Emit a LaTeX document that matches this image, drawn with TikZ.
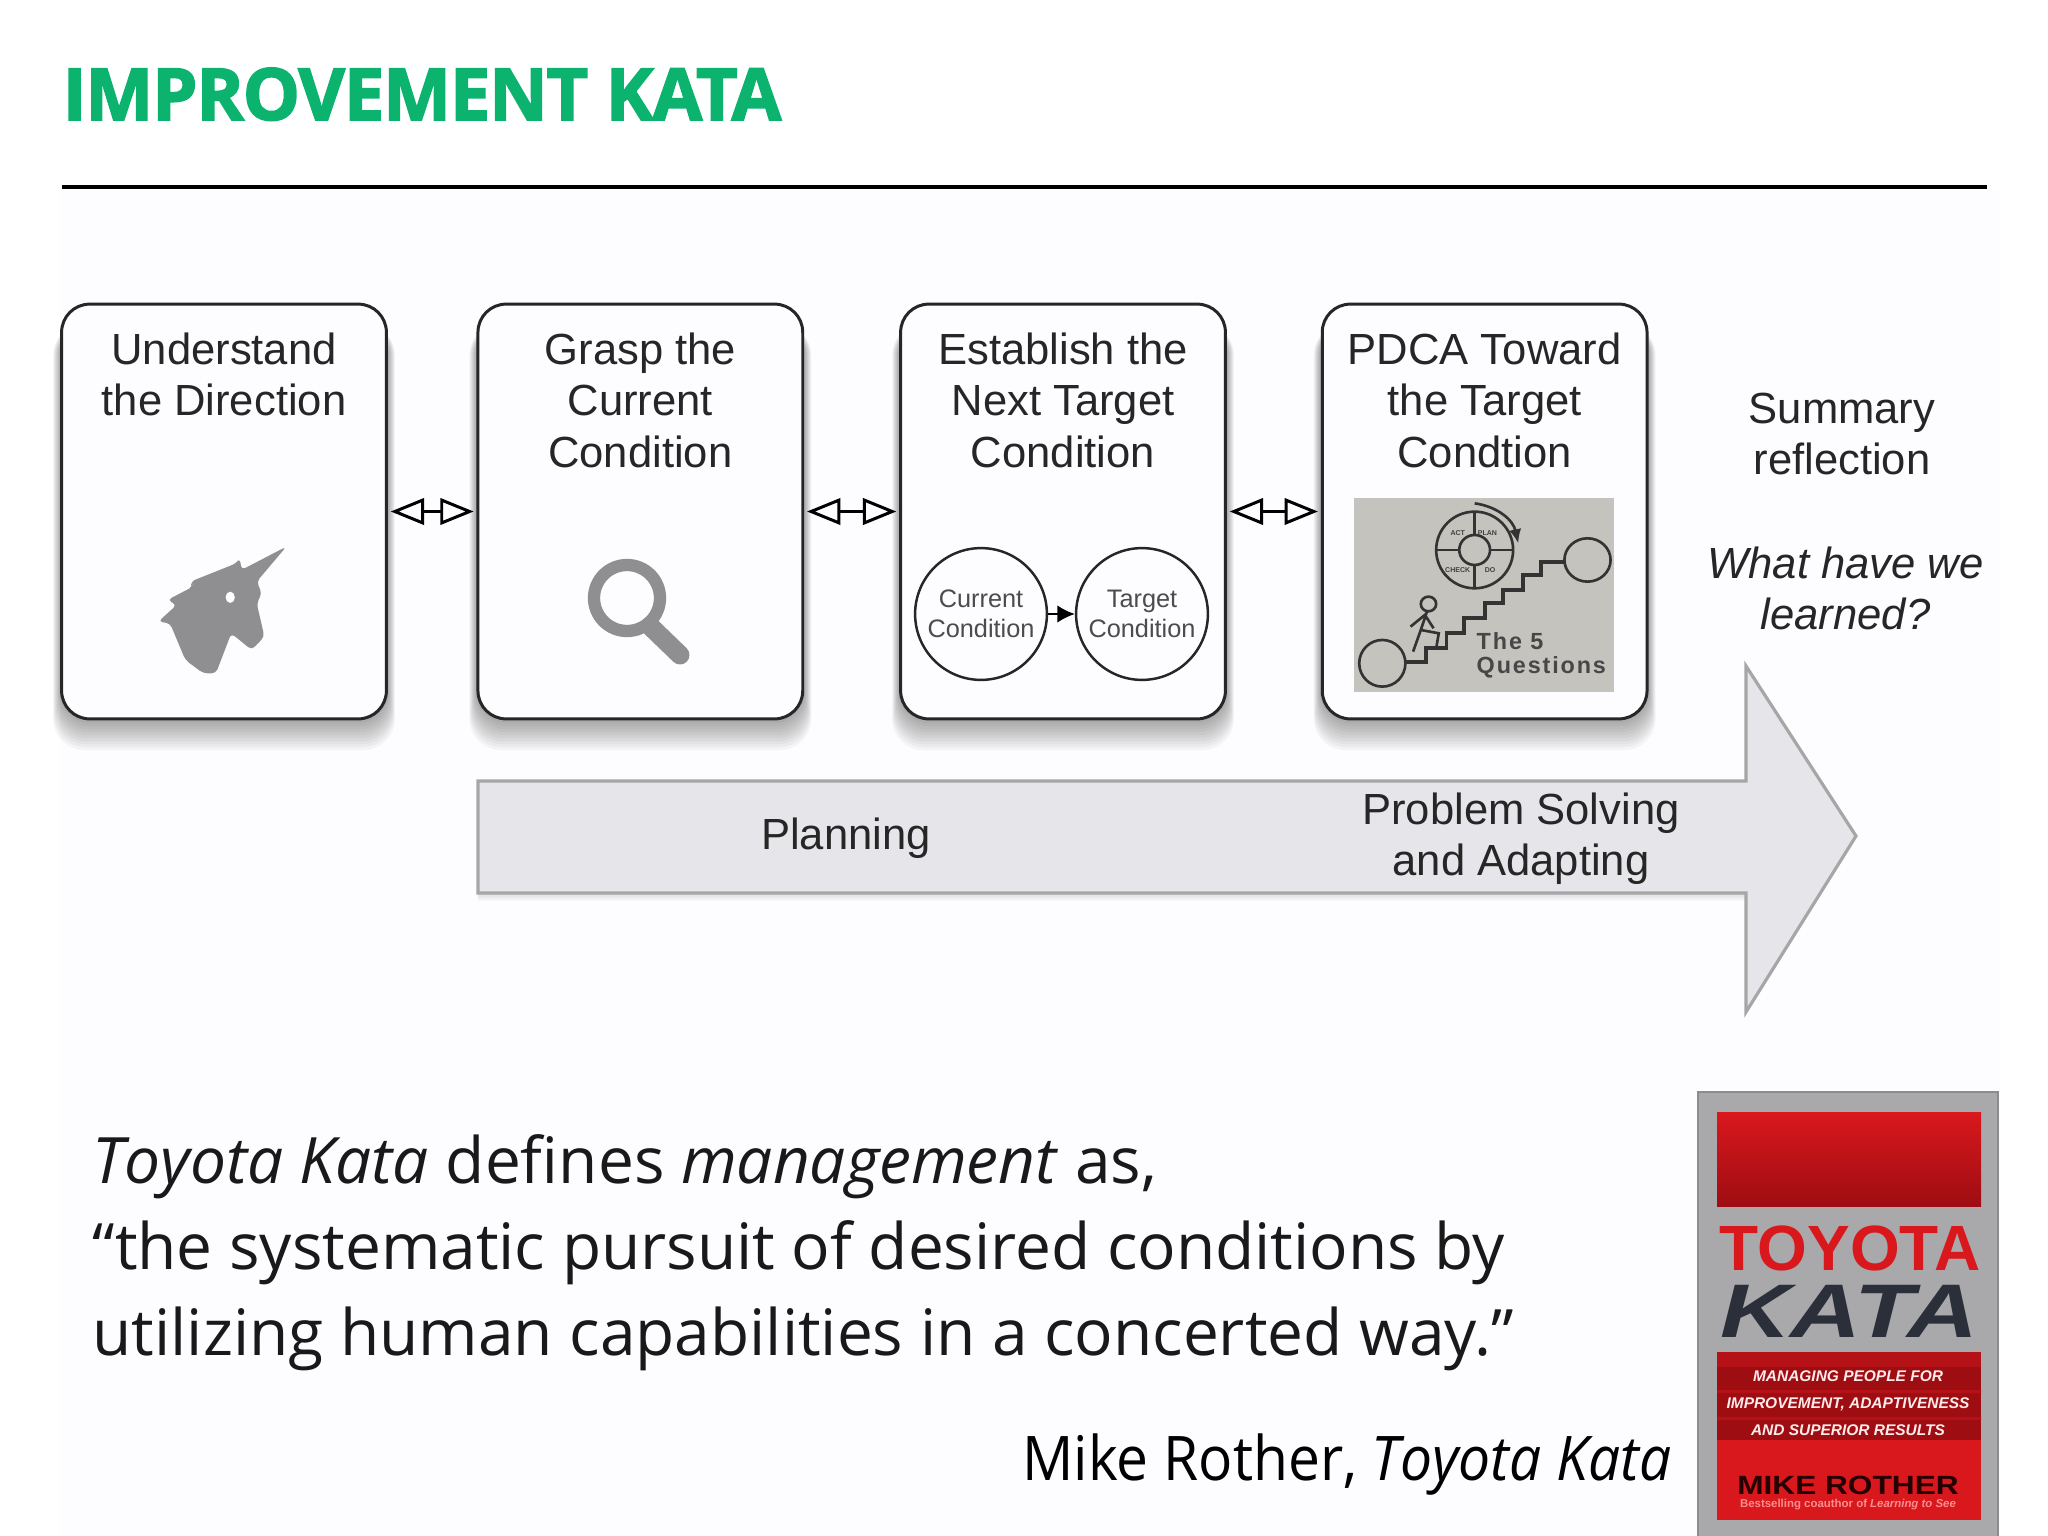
\documentclass[tikz,border=0pt]{standalone}
\usepackage{fontspec}
\usepackage{xcolor}
\setmainfont{Liberation Sans}
\newfontfamily\quotefont{Open Sans}
\newfontfamily\titlefont[LetterSpace=-1.6,BoldFeatures={FakeBold=2.2}]{Open Sans}
\newfontfamily\sketchfont[LetterSpace=8]{Liberation Sans}
\usetikzlibrary{arrows.meta,positioning,backgrounds}

\definecolor{katagreen}{HTML}{0BB36F}
\definecolor{paper}{HTML}{FDFCFE}
\definecolor{icongray}{HTML}{8F8E91}
\definecolor{arrowfill}{HTML}{E6E5E9}
\definecolor{photogray}{HTML}{C5C3BE}
\definecolor{coverred}{HTML}{D9181D}
\definecolor{coverdark}{HTML}{9E0D12}
\definecolor{covermid}{HTML}{B41217}
\definecolor{covergray}{HTML}{A9A9AC}
\definecolor{katadark}{HTML}{2B2F3A}

\tikzset{
    katabox/.style={draw=black!85, line width=.85pt, fill=paper, rounded corners=8pt,
        minimum width=92.4pt, minimum height=118pt},
    boxlabel/.style={font=\fontsize{12.4}{14.6}\selectfont, align=center, inner sep=0pt, text=black!85},
    condcircle/.style={draw=black!85, line width=.7pt, circle, minimum size=37.5pt, inner sep=0pt,
        align=center, font=\fontsize{7.2}{8.4}\selectfont, text=black!70},
    linkarrow/.style={line width=.85pt, {Triangle[open,length=9.5pt,width=7.5pt]}-{Triangle[open,length=9.5pt,width=7.5pt]},
        shorten >=.8pt, shorten <=.8pt},
    sketchline/.style={draw=black!80, line width=.75pt},
    covertext/.style={inner sep=0pt, align=center, font=\fontsize{4.4}{7.7}\selectfont\bfseries\itshape, text=white!92!red},
}

\begin{document}
\begin{tikzpicture}[x=.2845pt, y=-.2845pt, node distance=25.2pt]
    \useasboundingbox (0,0) rectangle (2048,1536);

    % title
    \node[anchor=base west, inner sep=0pt, text=katagreen] (title) at (62,120)
        {\fontsize{20.5}{24}\selectfont\titlefont\bfseries IMPROVEMENT KATA};
    \coordinate (ruleL) at (62,187);
    \coordinate (ruleR) at (1987,187);
    \draw[line width=.9pt] (ruleL) -- (ruleR);

    % steps
    \node[katabox] (box1) at (224,511.5) {};
    \node[katabox, right=of box1] (box2) {};
    \node[katabox, right=27pt of box2] (box3) {};
    \node[katabox, right=26.7pt of box3] (box4) {};

    \node[boxlabel, below=8.4pt of box1.north] (lab1) {Understand\\the Direction};
    \node[boxlabel, below=8.4pt of box2.north] (lab2) {Grasp the\\Current\\Condition};
    \node[boxlabel, below=8.4pt of box3.north] (lab3) {Establish the\\Next Target\\Condition};
    \node[boxlabel, below=8.4pt of box4.north] (lab4) {PDCA Toward\\the Target\\Condtion};

    \draw[linkarrow] (box1) -- (box2);
    \draw[linkarrow] (box2) -- (box3);
    \draw[linkarrow] (box3) -- (box4);

    \begin{pgfonlayer}{background}
        \fill[paper] (60,190) rectangle (2000,1536);
        \foreach \bx in {box1,box2,box3,box4} {
            \foreach \i in {1,...,10} {
                \fill[black, opacity=.036, rounded corners=9pt]
                    ([xshift=-\i*.2pt, yshift=-\i*.85pt]\bx.south west)
                    rectangle ([xshift=\i*.2pt, yshift=-6pt]\bx.north east);
            }
        }
        \foreach \i in {1,...,4} {
            \fill[black, opacity=.03] (478,893+\i*2) rectangle (1748,781);
        }
    \end{pgfonlayer}

    % unicorn
    \begin{scope}[shift={(40,290)}, xscale=.51, yscale=.3333]
        \fill[icongray, rounded corners=1.2pt] (483,770) -- (425,875) -- (435,910) -- (425,940) -- (440,1040)
            -- (415,1080) -- (375,1030) -- (345,1150) -- (320,1150) -- (285,1110)
            -- (255,1000) -- (232,995) -- (268,945) -- (250,930) -- (300,890)
            -- (295,875) -- (385,820) -- (392,805) -- (395,840) -- cycle;
        \fill[white] (373,922) ellipse [x radius=9, y radius=17];
    \end{scope}

    % magnifier
    \draw[icongray, line width=3.5pt] (627,598) circle (33);
    \draw[icongray, line width=5.4pt, line cap=round] (650,626) -- (680,655);

    % conditions
    \node[condcircle] (current) at (981,614) {Current\\Condition};
    \node[condcircle] (target) at (1142,614) {Target\\Condition};
    \draw[line width=.6pt, -{Latex[length=5pt,width=5pt]}] (current) -- (target);

    % five questions sketch
    \fill[photogray] (1354,498) rectangle (1614,692);
    \begin{scope}[shift={(877,290)}, xscale=.513, yscale=.3333]
        \draw[sketchline] (985,1120) ellipse [x radius=45, y radius=70];
        \draw[sketchline] (1385,810) ellipse [x radius=45, y radius=65];
        \draw[sketchline, line width=1.1pt] (1030,1115) -- (1070,1115) -- (1070,1075) -- (1110,1075)
            -- (1110,1030) -- (1145,1030) -- (1145,985) -- (1185,985) -- (1185,940)
            -- (1220,940) -- (1220,900) -- (1260,900) -- (1260,855) -- (1295,855)
            -- (1295,815) -- (1340,815);
        \draw[sketchline] (1165,780) ellipse [x radius=75, y radius=115];
        \draw[sketchline, fill=photogray] (1165,780) ellipse [x radius=30, y radius=45];
        \draw[sketchline] (1165,665) -- (1165,735) (1165,825) -- (1165,895)
            (1090,780) -- (1135,780) (1195,780) -- (1240,780);
        \draw[sketchline, -{Latex[length=4pt,width=3.5pt]}] (1165,640) .. controls (1210,650) and (1240,690) .. (1250,760);
        \foreach \wx/\wy/\wtxt in {1132/730/ACT,1190/730/PLAN,1132/840/CHECK,1195/840/DO} {
            \node[inner sep=0pt, font=\fontsize{2}{2.4}\selectfont\bfseries, text=black!75] (w\wtxt) at (\wx,\wy) {\wtxt};
        }
        \draw[sketchline] (1075,942) ellipse [x radius=15, y radius=22];
        \draw[sketchline] (1072,965) -- (1060,1020) -- (1045,1085);
        \draw[sketchline] (1060,1020) -- (1095,1030) -- (1090,1075);
        \draw[sketchline] (1040,1010) -- (1068,975) -- (1085,1015);
    \end{scope}
    \node[anchor=north west, inner sep=0pt, align=left, text=black!72,
        font=\fontsize{6.65}{6.9}\selectfont\sketchfont\bfseries] (fiveq) at (1476,632)
        {The 5\\Questions};

    % reflection
    \node[boxlabel] (summary) at (1842,434) {Summary\\reflection};
    \node[boxlabel, below=20pt of summary, xshift=1pt, font=\fontsize{12.4}{14.6}\selectfont\itshape] (learned) {What have we\\learned?};

    % big arrow
    \draw[draw=black!35, line width=.9pt, fill=arrowfill] (478,781) -- (1746,781) -- (1746,666)
        -- (1856,836) -- (1746,1012) -- (1746,893) -- (478,893) -- cycle;
    \node[boxlabel] (planning) at (846,838) {Planning};
    \node[boxlabel] (solving) at (1521,839) {Problem Solving\\and Adapting};

    % quote
    \node[anchor=north west, inner sep=0pt, align=left, text=black!90,
        font=\fontsize{18.2}{24.5}\selectfont\quotefont] (quote) at (92,1134)
        {\textit{Toyota Kata} defines \textit{management} as,\\
         “the systematic pursuit of desired conditions by\\
         utilizing human capabilities in a concerted way.”};
    \node[anchor=base east, inner sep=0pt, text=black,
        font=\fontsize{17.5}{21}\selectfont\quotefont] (source) at (1672,1480)
        {\scalebox{.925}[1]{Mike Rother, \textit{Toyota Kata}}};

    % book cover
    \fill[covergray] (1698,1092) rectangle (1998,1536);
    \draw[black!45, line width=.5pt] (1698,1536) -- (1698,1092) -- (1998,1092) -- (1998,1536);
    \shade[top color=coverred, bottom color=coverdark] (1717,1112) rectangle (1981,1206);
    \fill[coverred] (1717,1352) rectangle (1981,1520);
    \fill[covermid] (1717,1352) rectangle (1981,1367);
    \fill[coverdark] (1717,1367) rectangle (1981,1440);
    \fill[covermid] (1717,1390) rectangle (1981,1393) (1717,1417) rectangle (1981,1420);
    \node[inner sep=0pt, text=coverred, anchor=base] (bookA) at (1850,1270)
        {\fontsize{18.2}{20}\selectfont\bfseries TOYOTA};
    \node[inner sep=0pt, text=katadark, anchor=base] (bookB) at (1849,1337)
        {\scalebox{1.29}[1]{\fontsize{21.6}{24}\selectfont\bfseries\itshape KATA}};
    \node[covertext] (bookC) at (1848,1403) {MANAGING PEOPLE FOR\\IMPROVEMENT, ADAPTIVENESS\\AND SUPERIOR RESULTS};
    \node[inner sep=0pt, text=black!85!red, anchor=base] (bookD) at (1848,1494)
        {\scalebox{1.2}[1]{\fontsize{7.5}{9}\selectfont\bfseries MIKE ROTHER}};
    \node[inner sep=0pt, text=red!45!white, font=\fontsize{3.25}{4}\selectfont\bfseries] (bookE) at (1848,1505)
        {Bestselling coauthor of \textit{Learning to See}};
\end{tikzpicture}
\end{document}
